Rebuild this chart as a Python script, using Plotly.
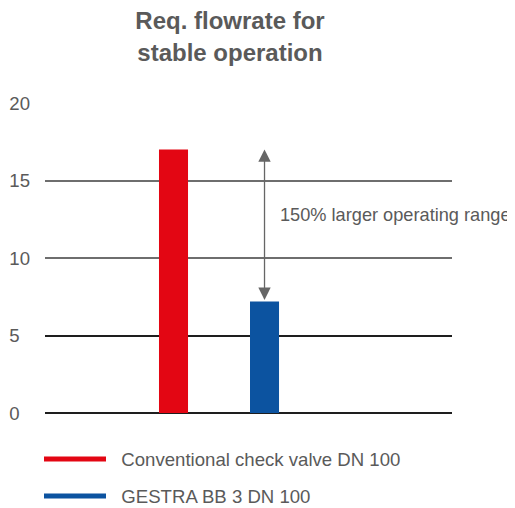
import plotly.graph_objects as go

categories = ["Conventional check valve DN 100", "GESTRA BB 3 DN 100"]
flowrate = [17.0, 7.2]
bar_colors = ["#e30613", "#0c53a0"]
tick_values = [0, 5, 10, 15, 20]
tick_labels = ["0", "5", "10", "15", "20"]
grid_gray_vals = [10, 15]
grid_dark_vals = [0, 5]
title_text = "Req. flowrate for<br>stable operation"
range_note = "150% larger operating range"

FONT = "Liberation Sans, Arial, Helvetica, sans-serif"
GREY = "#5a5a5a"
NB = "\u00a0"
Y_RANGE = [-0.06, 20]

fig = go.Figure()
fig.add_trace(go.Bar(
    x=categories, y=flowrate, marker=dict(color=bar_colors, line=dict(width=0)),
    width=0.319, showlegend=False, hoverinfo="skip"))

# legend entries (line symbols)
for i, (name, col) in enumerate(zip(categories, bar_colors)):
    fig.add_trace(go.Scatter(
        x=[None], y=[None], mode="lines", name=NB * 2 + name, legendgroup=f"g{i}",
        line=dict(color=col, width=5)))

# helper traces for the grid axes
fig.add_trace(go.Scatter(x=[None], y=[None], yaxis="y2", showlegend=False))
fig.add_trace(go.Scatter(x=[None], y=[None], yaxis="y3", showlegend=False))

# label with trailing non-breaking spaces so numbers appear left aligned
padded = [t + NB * (2 * (2 - len(t))) for t in tick_labels]

fig.update_layout(
    width=515, height=508,
    margin=dict(l=37, r=71, t=95.4, b=101.8, autoexpand=False),
    paper_bgcolor="white", plot_bgcolor="white",
    font=dict(family=FONT, size=18.6, color=GREY),
    title=dict(text=title_text, x=(230 - 45) / 407, xref="paper", xanchor="center",
               y=0.958, yanchor="top", yref="container",
               font=dict(family=FONT, size=24, color=GREY, weight="bold")),
    xaxis=dict(range=[-1.412, 3.06], showticklabels=False, showgrid=False,
               zeroline=False, showline=False, ticks=""),
    yaxis=dict(range=Y_RANGE, tickvals=tick_values, ticktext=padded,
               showgrid=False, zeroline=False, showline=False, ticks="",
               automargin=False,
               ticklabelstandoff=14, tickfont=dict(size=18.6, color=GREY)),
    yaxis2=dict(range=Y_RANGE, overlaying="y", tickvals=grid_gray_vals,
                showticklabels=False, showgrid=True, gridcolor="#6e6e6e",
                gridwidth=1.5, zeroline=False, showline=False, ticks=""),
    yaxis3=dict(range=Y_RANGE, overlaying="y", tickvals=grid_dark_vals,
                showticklabels=False, showgrid=True, gridcolor="#1e1e1e",
                gridwidth=1.5, zeroline=True, zerolinecolor="#1e1e1e",
                zerolinewidth=1.5, showline=False, ticks=""),
    legend=dict(x=-6 / 407, xanchor="left", y=0.149, yanchor="top", yref="container",
                itemwidth=62, tracegroupgap=10, traceorder="grouped",
                font=dict(size=18.6, color=GREY), bgcolor="rgba(0,0,0,0)"),
    barmode="overlay",
)

# double-headed arrow spanning the two flowrates
fig.add_annotation(
    x=categories[1], y=flowrate[0], ax=categories[1], ay=flowrate[1],
    xref="x", yref="y", axref="x", ayref="y", text="", showarrow=True,
    arrowhead=2, startarrowhead=2, arrowside="end+start", arrowsize=1.9,
    startarrowsize=1.9, arrowwidth=1.3, arrowcolor="#666666")

fig.add_annotation(
    x=categories[1], y=12.8, xref="x", yref="y", xshift=13, xanchor="left",
    yanchor="middle", text=range_note, showarrow=False,
    font=dict(family=FONT, size=18.2, color=GREY))

fig.write_html("out.html")
